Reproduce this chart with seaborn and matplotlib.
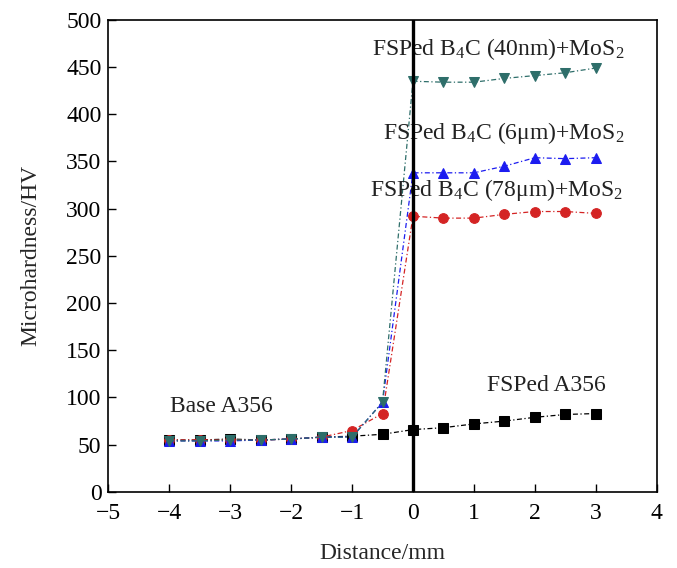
import matplotlib
matplotlib.use("Agg")
import matplotlib.pyplot as plt
import numpy as np
import pandas as pd
import seaborn as sns

sns.set_style("ticks")
plt.rcParams["font.family"] = ["Liberation Serif", "DejaVu Serif"]
plt.rcParams["mathtext.fontset"] = "custom"
plt.rcParams["mathtext.rm"] = "Liberation Serif"
plt.rcParams["mathtext.it"] = "Liberation Serif"

distance = [-4, -3.5, -3, -2.5, -2, -1.5, -1, -0.5, 0, 0.5, 1, 1.5, 2, 2.5, 3]
fsped_a356 = [55, 55, 56, 55, 56, 58, 59, 61, 66, 68, 72, 75, 79, 82, 83]
b4c_78um = [55, 55, 55, 55, 56, 58, 65, 83, 292, 290, 290, 294, 297, 297, 295]
b4c_6um = [54, 54, 54, 55, 56, 58, 58, 95, 338, 338, 338, 345, 354, 353, 354]
b4c_40nm = [54, 54, 55, 55, 56, 58, 58, 95, 435, 434, 434, 438, 441, 444, 449]

series = {
    "FSPed A356": (fsped_a356, "black", "s"),
    "78um": (b4c_78um, "#d42424", "o"),
    "6um": (b4c_6um, "#1c1cf0", "^"),
    "40nm": (b4c_40nm, "#2e6e6a", "v"),
}

fig, ax = plt.subplots(figsize=(6.77, 5.68), dpi=100)
fig.subplots_adjust(left=0.16, right=0.97, bottom=0.134, top=0.965)

for name, (vals, col, mk) in series.items():
    df = pd.DataFrame({"x": distance, "y": vals})
    sns.lineplot(data=df, x="x", y="y", ax=ax, color=col, marker=mk,
                 markersize=7, markeredgecolor=col, linewidth=0.9,
                 linestyle=(0, (4, 2, 1, 2)), zorder=3)

ax.axvline(0, color="black", linewidth=2.4, zorder=4)

ax.set_xlim(-5, 4)
ax.set_ylim(0, 500)
ax.set_xticks(np.arange(-5, 5, 1))
ax.set_yticks(np.arange(0, 501, 50))
ax.set_xticklabels(["\u22125", "\u22124", "\u22123", "\u22122", "\u22121", "0", "1", "2", "3", "4"])
ax.tick_params(direction="in", length=6, width=1, labelsize=17, colors="black")
ax.tick_params(axis="x", pad=8)
ax.tick_params(axis="y", pad=5)
ax.set_xlabel("Distance/mm", fontsize=17, labelpad=14)
ax.set_ylabel("Microhardness/HV", fontsize=17, labelpad=18)
for s in ax.spines.values():
    s.set_linewidth(1.2)
    s.set_color("black")

fs = 17
tc = "#222222"
ax.text(-0.67, 469, "FSPed B$_4$C (40nm)+MoS$_2$", fontsize=fs, va="center", color=tc)
ax.text(-0.49, 380, "FSPed B$_4$C (6\u03bcm)+MoS$_2$", fontsize=fs, va="center", color=tc)
ax.text(-0.70, 320, "FSPed B$_4$C (78\u03bcm)+MoS$_2$", fontsize=fs, va="center", color=tc)
ax.text(-3.98, 90, "Base A356", fontsize=fs, va="center", color=tc)
ax.text(1.21, 113, "FSPed A356", fontsize=fs, va="center", color=tc)

fig.savefig("out.png", dpi=100)
